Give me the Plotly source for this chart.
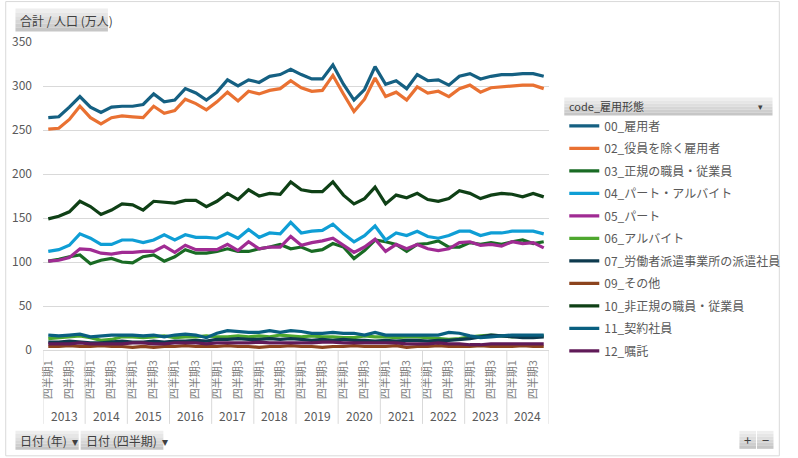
import plotly.graph_objects as go

years = [str(y) for y in range(2013, 2025)]
quarters = ["四半期1", "四半期2", "四半期3", "四半期4"]

s00 = [264, 265, 276, 288, 276, 270, 276, 277, 277, 279, 291, 282, 284, 297, 292, 284,
       293, 307, 300, 307, 304, 311, 313, 319, 313, 308, 308, 324, 302, 284, 296, 322,
       302, 306, 297, 313, 306, 307, 301, 311, 314, 308, 311, 313, 313, 314, 314, 311]
s02 = [251, 252, 262, 277, 264, 257, 264, 266, 265, 264, 277, 269, 272, 285, 280, 273,
       282, 293, 283, 294, 291, 295, 297, 306, 298, 294, 295, 312, 291, 271, 285, 309,
       288, 293, 284, 299, 292, 294, 288, 297, 301, 293, 298, 299, 300, 301, 301, 297]
s03 = [101, 103, 106, 108, 98, 102, 104, 100, 99, 106, 108, 101, 106, 114, 110, 110,
       112, 115, 112, 112, 115, 117, 120, 115, 117, 112, 114, 121, 117, 104, 113, 125,
       123, 120, 112, 120, 121, 124, 117, 117, 122, 120, 122, 120, 123, 125, 121, 123]
s04 = [112, 114, 119, 132, 127, 120, 120, 125, 125, 122, 125, 131, 125, 131, 128, 128,
       127, 133, 127, 137, 128, 133, 132, 145, 133, 135, 136, 143, 132, 123, 130, 141,
       125, 133, 130, 135, 129, 127, 130, 135, 135, 130, 133, 133, 135, 135, 135, 132]
s05 = [101, 102, 105, 115, 114, 110, 109, 111, 111, 112, 112, 118, 111, 119, 114, 114,
       114, 120, 113, 123, 115, 117, 117, 129, 119, 122, 124, 127, 119, 111, 117, 126,
       112, 120, 115, 120, 115, 113, 115, 122, 123, 119, 120, 118, 123, 121, 122, 116]
s06 = [13, 14, 15, 16, 14, 11, 12, 15, 15, 14, 15, 16, 14, 15, 15, 16,
       15, 15, 16, 15, 16, 15, 17, 16, 15, 16, 15, 15, 14, 14, 16, 15,
       15, 14, 15, 15, 14, 13, 12, 13, 15, 16, 17, 16, 15, 16, 16, 16]
s07 = [9, 9, 10, 9, 8, 8, 9, 10, 9, 9, 10, 9, 10, 10, 11, 10,
       12, 12, 13, 12, 12, 13, 12, 13, 12, 11, 12, 11, 12, 11, 11, 10,
       11, 10, 11, 11, 10, 11, 11, 12, 13, 15, 17, 16, 15, 14, 14, 15]
s09 = [4, 4, 5, 4, 4, 5, 4, 4, 3, 4, 3, 4, 4, 5, 4, 4,
       4, 5, 4, 4, 3, 4, 4, 5, 4, 4, 3, 4, 4, 5, 4, 4,
       4, 5, 3, 4, 4, 5, 4, 4, 4, 5, 4, 4, 4, 5, 4, 4]
s10 = [149, 152, 157, 169, 163, 154, 159, 166, 165, 159, 169, 168, 167, 170, 170, 163,
       169, 178, 171, 182, 175, 178, 177, 191, 182, 180, 180, 191, 176, 166, 172, 185,
       166, 176, 173, 178, 171, 169, 172, 181, 178, 172, 176, 178, 177, 174, 178, 174]
s11 = [17, 16, 17, 18, 15, 16, 17, 17, 17, 16, 17, 15, 17, 18, 17, 14,
       19, 22, 21, 20, 20, 22, 20, 22, 21, 19, 19, 20, 19, 19, 17, 20,
       17, 17, 17, 17, 17, 17, 20, 19, 16, 14, 15, 16, 17, 17, 17, 17]
s12 = [7, 7, 7, 8, 7, 7, 7, 7, 8, 8, 7, 7, 8, 8, 8, 7,
       8, 8, 8, 8, 9, 8, 8, 8, 8, 8, 9, 9, 8, 8, 8, 8,
       8, 8, 7, 7, 7, 8, 7, 7, 6, 6, 7, 7, 7, 7, 7, 7]

series_names = ["00_雇用者", "02_役員を除く雇用者", "03_正規の職員・従業員", "04_パート・アルバイト",
                "05_パート", "06_アルバイト", "07_労働者派遣事業所の派遣社員", "09_その他",
                "10_非正規の職員・従業員", "11_契約社員", "12_嘱託"]
series_values = [s00, s02, s03, s04, s05, s06, s07, s09, s10, s11, s12]
colors = ["#156082", "#E97132", "#196B24", "#0F9ED5", "#A02B93", "#4EA72E",
          "#0D3A4E", "#8C441E", "#0F4016", "#095F80", "#601A58"]

labels = [f"{y} {q}" for y in years for q in quarters]
xs = list(range(len(labels)))

FONT = "Noto Sans CJK JP"
TXT = "#595959"

# pixel geometry of the plot area
L, R, T, B = 39.3, 559.3, 41.5, 350.0
W, H = 798, 458


def px(x):
    return (x - L) / (R - L)


def py(y):
    return (B - y) / (B - T)


fig = go.Figure()
for name, vals, col in zip(series_names, series_values, colors):
    fig.add_trace(go.Scatter(x=xs, y=vals, mode="lines", name=name, legendgroup=name,
                             line=dict(color=col, width=3.2), hovertext=labels))

shapes = []
annotations = []

# year divider lines and year labels
for i, yr in enumerate(years):
    shapes.append(dict(type="line", xref="x", yref="paper", x0=4 * i - 0.5, x1=4 * i - 0.5,
                       y0=0, y1=py(424), line=dict(color="#D9D9D9", width=1)))
    annotations.append(dict(x=4 * i + 1.5, y=py(416), xref="x", yref="paper", text=yr,
                            showarrow=False, font=dict(family=FONT, size=12, color=TXT),
                            xanchor="center", yanchor="middle"))
shapes.append(dict(type="line", xref="x", yref="paper", x0=47.5, x1=47.5,
                   y0=0, y1=py(424), line=dict(color="#D9D9D9", width=1)))


def button(x0, y0, x1, y1):
    n = 6
    for j in range(n):
        c = int(0xEE - (0xEE - 0xC6) * j / (n - 1))
        ya = y0 + (y1 - y0) * j / n
        yb = y0 + (y1 - y0) * (j + 1) / n
        shapes.append(dict(type="rect", xref="paper", yref="paper", x0=px(x0), x1=px(x1),
                           y0=py(yb), y1=py(ya), line=dict(width=0),
                           fillcolor=f"rgb({c},{c},{c})", layer="below"))


# outer frame
shapes.append(dict(type="rect", xref="paper", yref="paper", x0=px(1), x1=px(796),
                   y0=py(456), y1=py(1), line=dict(color="#D9D9D9", width=1)))

# field buttons
button(11, 8, 106, 31)
annotations.append(dict(x=px(14), y=py(19.5), xref="paper", yref="paper", text="合計 / 人口 (万人)",
                        showarrow=False, xanchor="left", yanchor="middle",
                        font=dict(family=FONT, size=12, color="#404040")))
button(575, 97, 789, 115)
annotations.append(dict(x=px(578), y=py(106), xref="paper", yref="paper", text="code_雇用形態",
                        showarrow=False, xanchor="left", yanchor="middle",
                        font=dict(family=FONT, size=11, color="#404040")))
annotations.append(dict(x=px(777), y=py(106), xref="paper", yref="paper", text="▾",
                        showarrow=False, xanchor="center", yanchor="middle",
                        font=dict(family=FONT, size=9, color="#404040")))
button(11, 431, 76, 450)
annotations.append(dict(x=px(14), y=py(440.5), xref="paper", yref="paper", text="日付 (年)  ▾",
                        showarrow=False, xanchor="left", yanchor="middle",
                        font=dict(family=FONT, size=12, color="#404040")))
button(78, 431, 163, 450)
annotations.append(dict(x=px(81), y=py(440.5), xref="paper", yref="paper", text="日付 (四半期)  ▾",
                        showarrow=False, xanchor="left", yanchor="middle",
                        font=dict(family=FONT, size=12, color="#404040")))
button(755, 431, 772, 449)
button(773, 431, 790, 449)
annotations.append(dict(x=px(763.5), y=py(440), xref="paper", yref="paper", text="+",
                        showarrow=False, xanchor="center", yanchor="middle",
                        font=dict(family=FONT, size=13, color="#404040")))
annotations.append(dict(x=px(781.5), y=py(440), xref="paper", yref="paper", text="−",
                        showarrow=False, xanchor="center", yanchor="middle",
                        font=dict(family=FONT, size=13, color="#404040")))

tickvals = [i for i in xs if i % 2 == 0]
ticktext = [labels[i].split(" ")[1] for i in tickvals]

fig.update_layout(
    width=W, height=H,
    margin=dict(l=L, r=W - R, t=T, b=H - B, pad=0),
    paper_bgcolor="white", plot_bgcolor="white",
    font=dict(family=FONT, size=12, color=TXT),
    showlegend=True,
    legend=dict(x=px(575), y=py(111), xanchor="left", yanchor="top",
                font=dict(family=FONT, size=12, color=TXT),
                tracegroupgap=3.5, itemwidth=30, bgcolor="rgba(0,0,0,0)"),
    xaxis=dict(range=[-0.5, 47.5], tickmode="array", tickvals=tickvals, ticktext=ticktext,
               tickangle=-90, tickfont=dict(family=FONT, size=11, color="#7F7F7F"),
               showgrid=False, zeroline=False, showline=False, ticks="", ticklabelstandoff=7,
               fixedrange=True),
    yaxis=dict(range=[0, 350], dtick=50, tick0=0, showgrid=True, gridcolor="#D9D9D9",
               gridwidth=1, zeroline=True, zerolinecolor="#D9D9D9", zerolinewidth=1,
               showline=False, ticks="", ticklabelstandoff=10,
               tickfont=dict(family=FONT, size=12, color=TXT), fixedrange=True),
    shapes=shapes,
    annotations=annotations,
    hovermode=False,
)

fig.write_html("out.html", config={"displayModeBar": False},
               post_script="document.body.style.margin='0';document.body.style.padding='0';")
